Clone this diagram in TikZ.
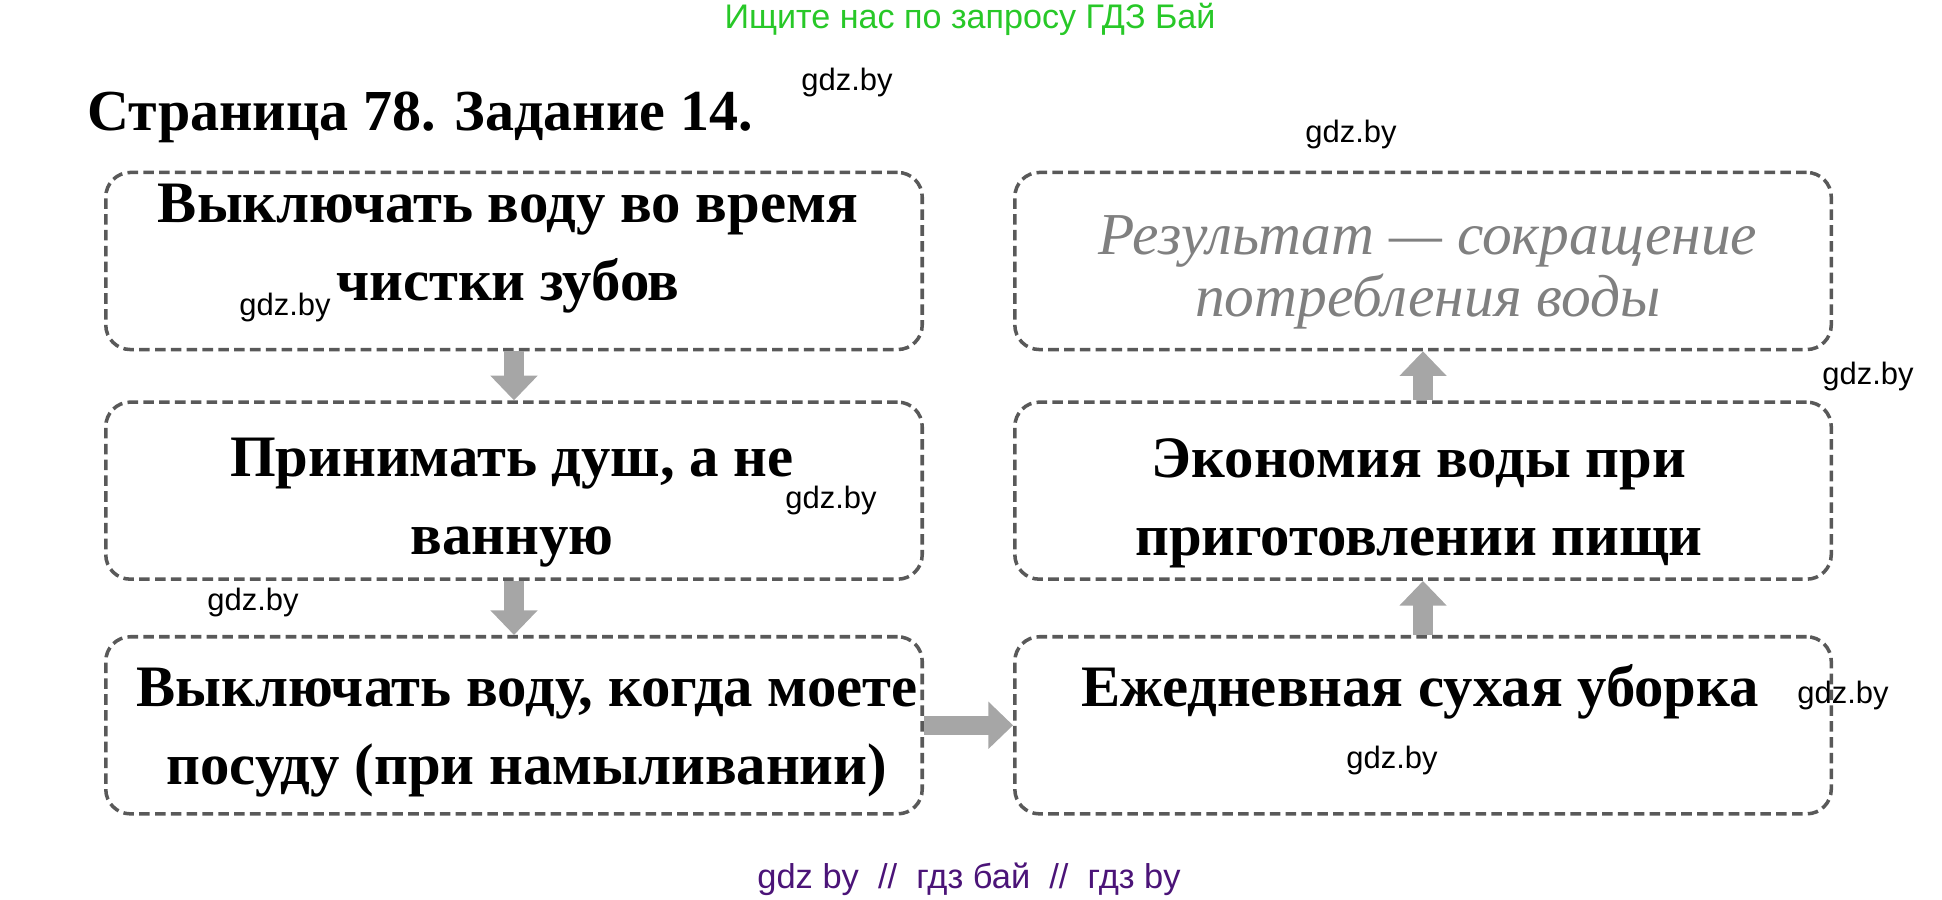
\documentclass[tikz,border=0pt]{standalone}
\usepackage{fontspec}
\setmainfont{Liberation Serif}
\newfontfamily\sitefont{Liberation Sans}
\usetikzlibrary{positioning,arrows.meta}
\definecolor{sitegreen}{RGB}{40,200,40}
\definecolor{sitepurple}{RGB}{75,20,120}
\begin{document}
\begin{tikzpicture}[x=0.01cm,y=-0.01cm,
				box/.style={
					draw=black!65,
					dash pattern=on 3pt off 1.5pt,
					line width=1pt,
					rounded corners=7pt,
					minimum width=8.16cm,
					minimum height=1.77cm
				},
				boxtext/.style={
					align=center,
					font=\fontsize{16.7}{22.2}\selectfont\bfseries
				},
				handtext/.style={
					align=center,
					text=black!50,
					font=\fontsize{16.9}{17.6}\selectfont\itshape
				},
				wmark/.style={
					font=\sitefont\fontsize{8.8}{10}\selectfont,
					inner sep=0pt
				},
				fatarrow/.style={
					draw=black!35,
					line width=5.5pt,
					-{Triangle[width=13pt,length=7pt]}
				},
				node distance=4.9mm
			]
			\useasboundingbox (0,0) rectangle (1942,900);
			% header and footer
			\node[font=\sitefont\fontsize{9.7}{12}\selectfont, text=sitegreen] (top) at (970,19)
			{Ищите нас по запросу ГДЗ Бай};
			\node[font=\sitefont\fontsize{9.8}{12}\selectfont, text=sitepurple] (bottom) at (969,879)
			{gdz by\ \ //\ \ гдз бай\ \ //\ \ гдз by};
			\node[anchor=base west, inner sep=0pt, font=\fontsize{16.5}{20}\selectfont\bfseries] (title) at (87,130)
			{Страница 78. Задание 14.};
			
			% boxes
			\node[box] at (514,261) (L1) {};
			\node[box,below=of L1] (L2) {};
			\node[box,below=5.4mm of L2] (L3) {};
			\node[box,right=8.9mm of L1] (R1) {};
			\node[box,right=8.9mm of L2] (R2) {};
			\node[box,right=8.9mm of L3] (R3) {};
			
			\node[boxtext] at (508,249) (t1) {Выключать воду во время\\чистки зубов};
			\node[boxtext] at (512,503) (t2) {Принимать душ, а не\\ванную};
			\node[boxtext] at (527,733) (t3) {Выключать воду, когда моете\\посуду (при намыливании)};
			\node[handtext] at (1428,272) (t4) {Результат --- сокращение\\потребления воды};
			\node[boxtext] at (1419,503) (t5) {Экономия воды при\\приготовлении пищи};
			\node[boxtext] at (1420,692) (t6) {Ежедневная сухая уборка};
			
			\draw[fatarrow] (L1) -- (L2);
			\draw[fatarrow] (L2) -- (L3);
			\draw[fatarrow] (L3) -- (R3);
			\draw[fatarrow] (R3) -- (R2);
			\draw[fatarrow] (R2) -- (R1);
			
			% watermarks
			\foreach \x/\y [count=\i] in {847/82,1351/134,285/307,1868/376,831/500,253/602,1843/695,1392/760}
			\node[wmark] (wm\i) at (\x,\y) {gdz.by};
		\end{tikzpicture}
\end{document}
